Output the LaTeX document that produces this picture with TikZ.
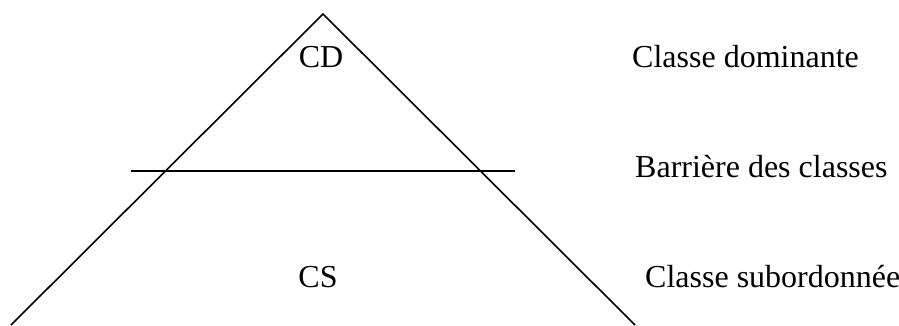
\documentclass[tikz,border=0pt]{standalone}
\usepackage{fontspec}
\setmainfont{Liberation Serif}
\begin{document}
\begin{tikzpicture}[x=1pt,y=1pt,
  edge/.style={line width=1.6pt},
  lbl/.style={inner sep=0pt,anchor=base west,font=\fontsize{32}{38}\selectfont},
  inlbl/.style={inner sep=0pt,anchor=base,font=\fontsize{32}{38}\selectfont}]
\useasboundingbox (0,0) rectangle (899,325);
\coordinate (apex) at (323,311);
\coordinate (bl) at (11,0);
\coordinate (br) at (635,0);
\coordinate (hl) at (131,154);
\coordinate (hr) at (515,154);
\draw[edge] (bl) -- (apex) -- (br);
\draw[edge] (hl) -- (hr);
\node[inlbl] (cd) at (321,258) {CD};
\node[inlbl] (cs) at (318,38) {CS};
\node[lbl] (t1) at (632,258) {Classe dominante};
\node[lbl] (t2) at (635,148) {Barrière des classes};
\node[lbl] (t3) at (645,38) {Classe subordonnée};
\end{tikzpicture}
\end{document}
